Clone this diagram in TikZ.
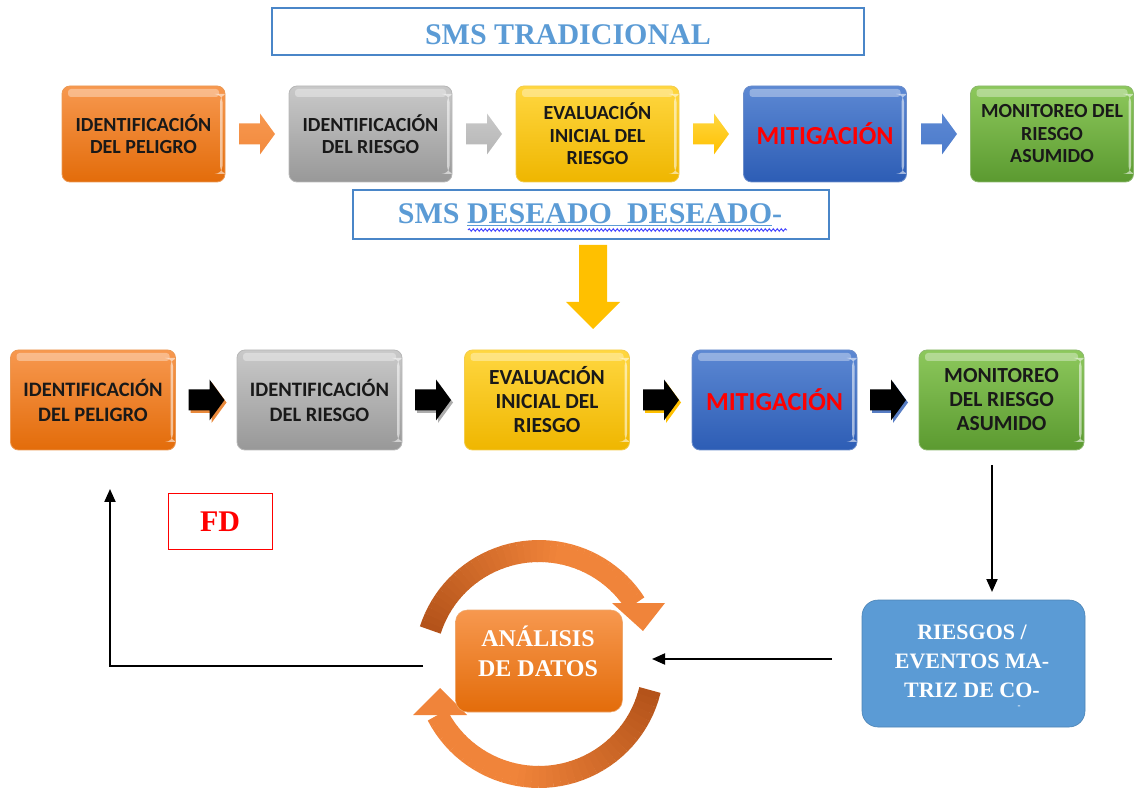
\documentclass[tikz,border=0pt]{standalone}
\usepackage{fontspec}
\setmainfont{Liberation Serif}
\newfontfamily\calfont{Carlito}
\usetikzlibrary{arrows.meta,decorations.pathmorphing}
\definecolor{orT}{HTML}{F7984F}
\definecolor{orB}{HTML}{E36C0A}
\definecolor{grT}{HTML}{C9C9C9}
\definecolor{grB}{HTML}{989898}
\definecolor{yeT}{HTML}{FFD740}
\definecolor{yeB}{HTML}{EFB600}
\definecolor{blT}{HTML}{5C88D3}
\definecolor{blB}{HTML}{2D5DB5}
\definecolor{gnT}{HTML}{8DC85C}
\definecolor{gnB}{HTML}{5B9A30}
\definecolor{ttl}{HTML}{5B9BD5}
\definecolor{ttlframe}{HTML}{4A86C8}
\definecolor{mred}{HTML}{FF0000}
\definecolor{rbox}{HTML}{5B9BD5}
\definecolor{ringdark}{HTML}{B4531A}
\definecolor{ringlight}{HTML}{F0843A}
\definecolor{ayellow}{HTML}{FFC000}
\definecolor{aorange}{HTML}{F28A3E}
\definecolor{agray}{HTML}{B5B5B5}
\definecolor{ablue}{HTML}{4C7BCB}
\newcommand{\myblockarrow}[3]{\path[#3,shift={(#1,#2)}] (-18,-10.5) -- (3,-10.5) -- (3,-20.5) -- (18,0) -- (3,20.5) -- (3,10.5) -- (-18,10.5) -- cycle;}
\begin{document}
\begin{tikzpicture}[x=1pt,y=-1pt,
  gbox/.style 2 args={rounded corners=8pt, top color=#1, bottom color=#2, draw=#2!70!white, line width=0.8pt, inner sep=2pt, align=center, text=black!90,
    path picture={
      \fill[white,opacity=0.35,rounded corners=3pt] ([xshift=6pt,yshift=-3pt]path picture bounding box.north west) rectangle ([xshift=-6pt,yshift=-11pt]path picture bounding box.north east);
      \fill[white,opacity=0.55] ([xshift=-5pt,yshift=-8pt]path picture bounding box.north east) rectangle ([xshift=-2.5pt,yshift=8pt]path picture bounding box.south east);
    }},
  toprow/.style={minimum width=163pt, minimum height=96pt, font=\calfont\bfseries\fontsize{20}{22.5}\selectfont},
  midrow/.style={minimum width=165pt, minimum height=100pt, font=\calfont\bfseries\fontsize{21.5}{24}\selectfont},
  midid/.style={font=\calfont\bfseries\fontsize{20.5}{25}\selectfont},
  mitig/.style={font=\calfont\bfseries\fontsize{26}{28}\selectfont, text=mred},
  ttltext/.style={font=\bfseries\fontsize{30}{34}\selectfont, text=ttl},
  ttlbox/.style={draw=ttlframe, line width=1.6pt},
  conn/.style={line width=2pt, -{Triangle[length=13pt,width=11pt]}}
]
\useasboundingbox (0,0) rectangle (1136,791);

% titles
\node[ttlbox, minimum width=592pt, minimum height=47pt] (tb1) at (568,31.5) {};
\node[ttltext] (tt1) at (568,35) {SMS TRADICIONAL};
\node[ttlbox, minimum width=476pt, minimum height=49pt] (tb2) at (591,214.5) {};
\node[ttltext] (tt2) at (590,215) {SMS \underline{DESEADO\ \ DESEADO}-};
\coordinate (wl) at (468,230);
\coordinate (wr) at (787,230);
\draw[decorate, decoration={snake, amplitude=1.3pt, segment length=4pt}, color=blue!75!white, line width=0.9pt] (wl) -- (wr);

% top row
\node[gbox={orT}{orB}, toprow] (t1) at (143.5,134) {IDENTIFICACIÓN\\DEL PELIGRO};
\node[gbox={grT}{grB}, toprow] (t2) at (370.5,134) {IDENTIFICACIÓN\\DEL RIESGO};
\node[gbox={yeT}{yeB}, toprow] (t3) at (597.5,134) {EVALUACIÓN\\INICIAL DEL\\RIESGO};
\node[gbox={blT}{blB}, toprow, mitig] (t4) at (825,134) {MITIGACIÓN};
\node[gbox={gnT}{gnB}, toprow] (t5) at (1052,134) {MONITOREO DEL\\RIESGO\\ASUMIDO};
\myblockarrow{257}{134}{top color=orT, bottom color=aorange}
\myblockarrow{484}{134}{top color=grT, bottom color=agray}
\myblockarrow{711}{134}{top color=yeT, bottom color=ayellow}
\myblockarrow{939}{134}{top color=blT, bottom color=ablue}

% yellow down arrow
\fill[ayellow] (579,245) -- (607,245) -- (607,302) -- (620,302) -- (593,329) -- (566,302) -- (579,302) -- cycle;

% middle row
\node[gbox={orT}{orB}, midrow, midid] (m1) at (93,400) {IDENTIFICACIÓN\\DEL PELIGRO};
\node[gbox={grT}{grB}, midrow, midid] (m2) at (319.5,400) {IDENTIFICACIÓN\\DEL RIESGO};
\node[gbox={yeT}{yeB}, midrow] (m3) at (547,400) {EVALUACIÓN\\INICIAL DEL\\RIESGO};
\node[gbox={blT}{blB}, midrow, mitig] (m4) at (774.5,400) {MITIGACIÓN};
\node[gbox={gnT}{gnB}, midrow] (m5) at (1001.5,400) {MONITOREO\\DEL RIESGO\\ASUMIDO};
\myblockarrow{208.5}{402.5}{fill=orB!80}
\myblockarrow{206.5}{400}{fill=black}
\myblockarrow{435}{402.5}{fill=grB!80}
\myblockarrow{433}{400}{fill=black}
\myblockarrow{663}{402.5}{fill=ayellow}
\myblockarrow{661}{400}{fill=black}
\myblockarrow{890}{402.5}{fill=blB!80}
\myblockarrow{888}{400}{fill=black}

% FD
\node[draw=mred, line width=1pt, minimum width=104pt, minimum height=55pt, text=mred, font=\bfseries\fontsize{30}{32}\selectfont] (fd) at (220,521.5) {FD};

% ring arrows
\foreach \k in {0,...,39}{
  \pgfmathsetmacro{\ta}{162.5-\k*3.245}
  \pgfmathsetmacro{\tb}{\ta-3.6}
  \pgfmathtruncatemacro{\mx}{max(0,100-\k*4)}
  \draw[line width=22pt, ringdark!\mx!ringlight] ({539+114*cos(\ta)},{664-113*sin(\ta)}) -- ({539+114*cos(\tb)},{664-113*sin(\tb)});
}
\foreach \k in {0,...,39}{
  \pgfmathsetmacro{\ta}{-13.3-\k*3.485}
  \pgfmathsetmacro{\tb}{\ta-3.85}
  \pgfmathtruncatemacro{\mx}{max(0,100-\k*4)}
  \draw[line width=22pt, ringdark!\mx!ringlight] ({539+114*cos(\ta)},{664-113*sin(\ta)}) -- ({539+114*cos(\tb)},{664-113*sin(\tb)});
}
\fill[ringlight] (612,603) -- (665,603) -- (643,631) -- cycle;
\fill[ringlight] (413,715) -- (467,715) -- (440,688) -- cycle;

% analysis box
\node[rounded corners=12pt, top color=orT, bottom color=orB, draw=orB!60!white, line width=0.6pt, minimum width=167pt, minimum height=102pt] (an) at (539,661) {};
\node[text=white, font=\bfseries\fontsize{24}{30}\selectfont, align=center] (atx) at (538,651) {ANÁLISIS\\DE DATOS};

% riesgos box
\node[fill=rbox, draw=rbox!85!black, line width=0.6pt, rounded corners=16pt, minimum width=223pt, minimum height=127pt] (rb) at (973.5,663.5) {};
\node[text=white, font=\bfseries\fontsize{22}{29}\selectfont, align=center] (rt) at (972,661) {RIESGOS /\\EVENTOS MA-\\TRIZ DE CO-};
\node[text=white, font=\bfseries\fontsize{9}{9}\selectfont, inner sep=0pt] (rdot) at (1019,707) {-};

% connectors
\coordinate (gdn) at (992,465);
\coordinate (rtop) at (992,592);
\draw[conn] (gdn) -- (rtop);
\coordinate (rl) at (832,659);
\coordinate (ar) at (652,659);
\draw[conn] (rl) -- (ar);
\coordinate (al) at (423,666);
\coordinate (ret) at (110,489);
\draw[conn] (al) -| (ret);
\end{tikzpicture}
\end{document}
